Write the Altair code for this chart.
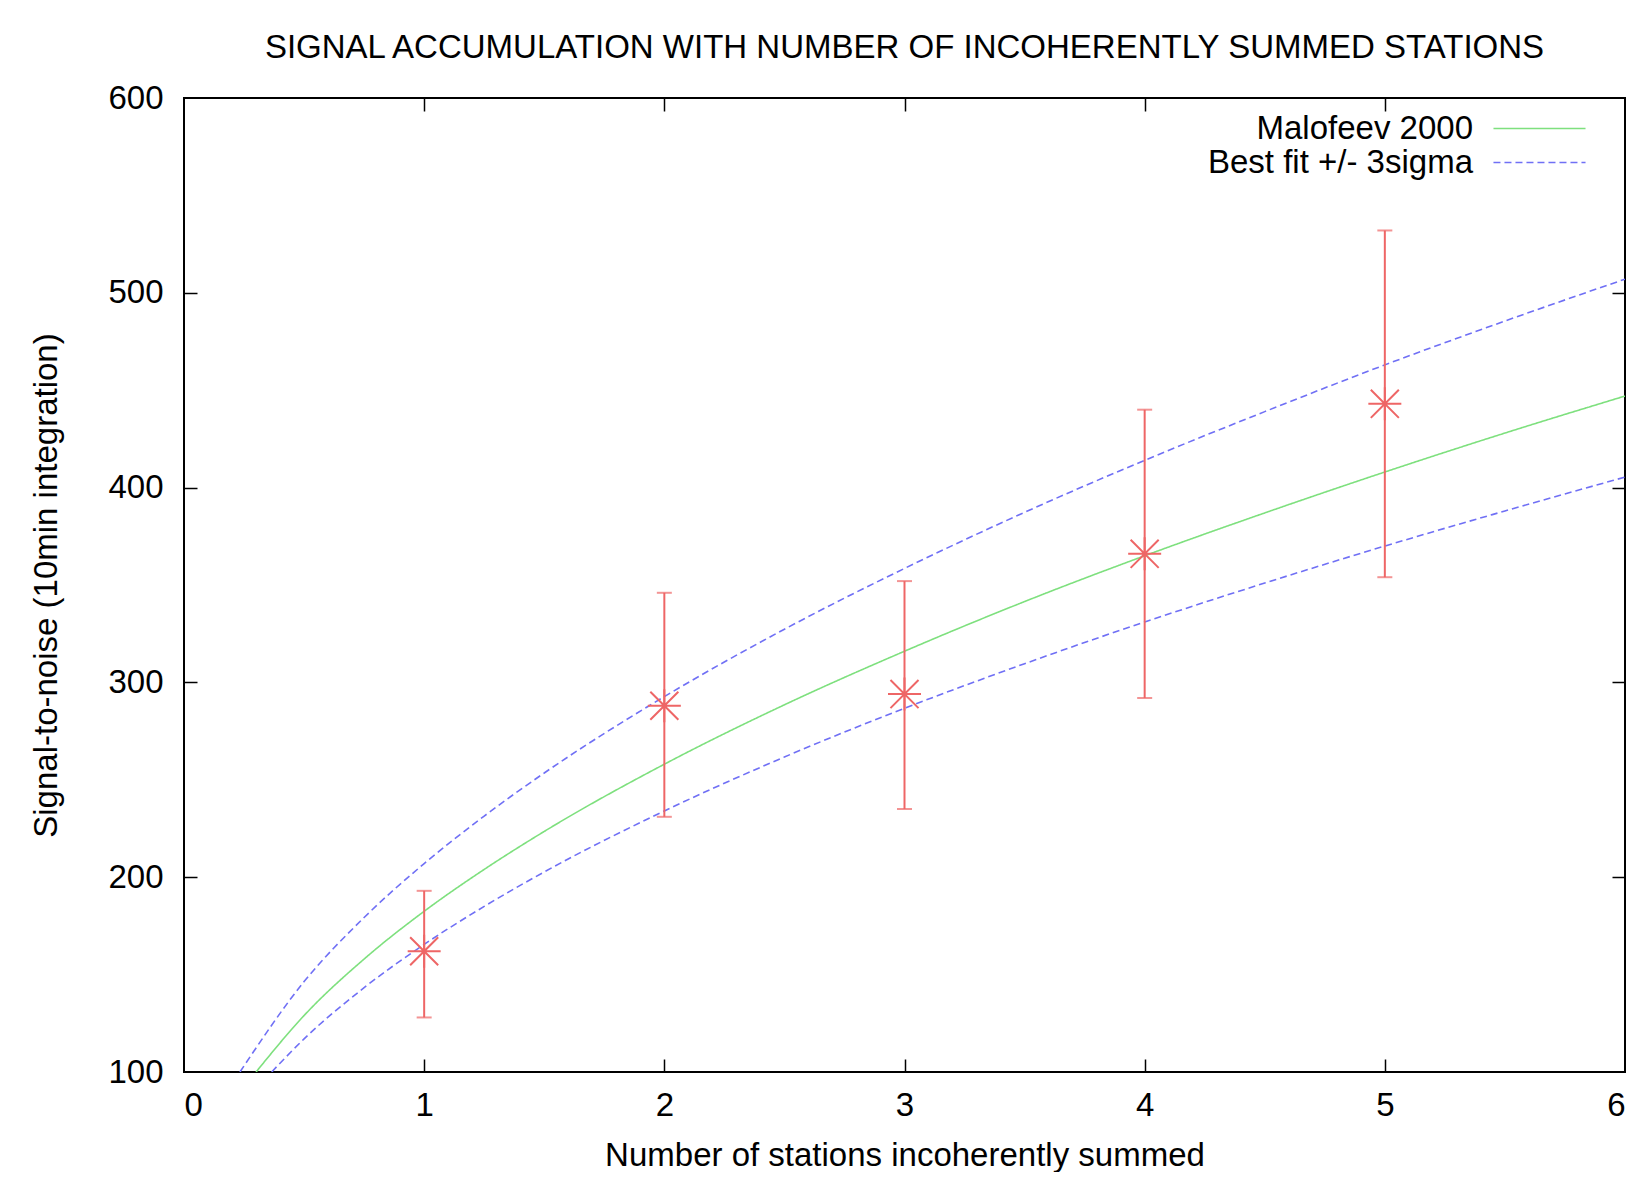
import altair as alt
import pandas as pd

# measured points: stations summed, S/N and its error bar ends
stations = [1, 2, 3, 4, 5]
snr = [162, 288, 294, 366, 443]
snr_low = [128, 231, 235, 292, 354]
snr_high = [193, 346, 352, 440, 532]

# curves
malofeev_x = [0.30, 0.5, 0.75, 1, 1.25, 1.5, 2, 2.5, 3, 3.5, 4, 4.5, 5, 5.5, 6]
malofeev_y = [100, 129, 158, 182.5, 204, 223.5, 258, 288.5, 316, 341.5, 365, 387, 408, 428, 447]
fit_hi_x = [0.233, 0.5, 0.75, 1, 1.25, 1.5, 2, 2.5, 3, 3.5, 4, 4.5, 5, 5.5, 6]
fit_hi_y = [100, 146.4, 179.3, 207, 231.4, 253.5, 292.7, 327.3, 358.5, 387.3, 414, 439, 463, 485.5, 507]
fit_lo_x = [0.365, 0.5, 0.75, 1, 1.25, 1.5, 2, 2.5, 3, 3.5, 4, 4.5, 5, 5.5, 6]
fit_lo_y = [100, 117, 143.3, 165.5, 185, 202.7, 234, 261.7, 286.7, 309.6, 331, 351, 370, 388, 405.4]

series_names = ["Malofeev 2000", "Best fit +/- 3sigma"]
x_ticks = [0, 1, 2, 3, 4, 5, 6]
y_ticks = [100, 200, 300, 400, 500, 600]

W, H = 1441, 974
FONT = "Liberation Sans"
FS = 33
RED = "#ee6666"

curves = pd.concat([
    pd.DataFrame({"x": malofeev_x, "y": malofeev_y, "series": series_names[0], "bound": "mid"}),
    pd.DataFrame({"x": fit_hi_x, "y": fit_hi_y, "series": series_names[1], "bound": "hi"}),
    pd.DataFrame({"x": fit_lo_x, "y": fit_lo_y, "series": series_names[1], "bound": "lo"}),
])
points = pd.DataFrame({"n": stations, "snr": snr, "low": snr_low, "high": snr_high})
caps = pd.DataFrame({"n": stations + stations, "v": snr_low + snr_high})

xs = alt.Scale(domain=[0, 6], nice=False, zero=False)
ys = alt.Scale(domain=[100, 600], nice=False, zero=False)


def tick_axis(orient, offset, values):
    # ticks only, pushed across the plot so they point inwards (gnuplot style)
    return alt.Axis(orient=orient, offset=offset, values=values, labels=False,
                    domain=False, grid=False, ticks=True, tickSize=13,
                    tickWidth=1.5, tickColor="black", title=None)


# long flat key symbol, label to the left of it as gnuplot draws its key
key_line = "M-5,0L5,0"
leg = alt.Legend(title=None, orient="none", legendX=1339, legendY=14,
                 symbolType=key_line, symbolSize=339, symbolStrokeWidth=1.6,
                 labelAlign="right", labelOffset={"expr": "-83"}, labelFontSize=FS,
                 labelFont=FONT, labelColor="black", labelLimit=500, rowPadding=0)

lines = alt.Chart(curves).mark_line(strokeWidth=1.6, interpolate="monotone", clip=True).encode(
    x=alt.X("x:Q", scale=xs, axis=alt.Axis(
        orient="bottom", values=x_ticks, ticks=False, tickSize=0, domain=False, grid=False,
        labelFontSize=FS, labelFont=FONT, labelColor="black", labelPadding=17,
        title="Number of stations incoherently summed", titleFontSize=FS,
        titleFont=FONT, titleFontWeight="normal", titleColor="black", titlePadding=17)),
    y=alt.Y("y:Q", scale=ys, axis=alt.Axis(
        orient="left", values=y_ticks, ticks=False, tickSize=0, domain=False, grid=False,
        labelFontSize=FS, labelFont=FONT, labelColor="black", labelPadding=21,
        title="Signal-to-noise (10min integration)", titleFontSize=FS,
        titleFont=FONT, titleFontWeight="normal", titleColor="black", titlePadding=44)),
    color=alt.Color("series:N", scale=alt.Scale(domain=series_names, range=["#7ee07e", "#7070f5"]),
                    legend=leg),
    strokeDash=alt.StrokeDash("series:N", scale=alt.Scale(domain=series_names, range=[[1, 0], [7, 4]]),
                              legend=leg),
    detail="bound:N",
)

bars = alt.Chart(points).mark_rule(color=RED, strokeWidth=2).encode(
    x=alt.X("n:Q", scale=xs, axis=tick_axis("top", -H, [1, 2, 3, 4, 5])),
    y=alt.Y("low:Q", scale=ys, axis=tick_axis("right", -W, [200, 300, 400, 500])),
    y2="high:Q",
)

cap_marks = alt.Chart(caps).mark_tick(color=RED, orient="horizontal", size=15, thickness=2).encode(
    x=alt.X("n:Q", scale=xs, axis=tick_axis("bottom", -H, [1, 2, 3, 4, 5])),
    y=alt.Y("v:Q", scale=ys, axis=tick_axis("left", -W, [200, 300, 400, 500])),
)

star = "M-1,0L1,0M0,-1L0,1M-0.85,-0.85L0.85,0.85M-0.85,0.85L0.85,-0.85"
stars = alt.Chart(points).mark_point(shape=star, size=33 * 33, filled=False, color=RED,
                                     strokeWidth=2, opacity=1).encode(
    x=alt.X("n:Q", scale=xs, axis=None),
    y=alt.Y("snr:Q", scale=ys, axis=None),
)

chart = (
    alt.layer(lines, bars, cap_marks, stars)
    .resolve_axis(x="independent", y="independent")
    .properties(
        width=W, height=H,
        background="white",
        autosize=alt.AutoSizeParams(type="none"),
        padding={"left": 176, "top": 90, "right": 10, "bottom": 100},
        title=alt.Title("SIGNAL ACCUMULATION WITH NUMBER OF INCOHERENTLY SUMMED STATIONS",
                        fontSize=FS, font=FONT, fontWeight="normal", color="black",
                        anchor="middle", frame="group", offset=17),
    )
    .configure_view(stroke="black", strokeWidth=2)
)

chart.save("out.html", embed_options={"renderer": "svg", "actions": False})
